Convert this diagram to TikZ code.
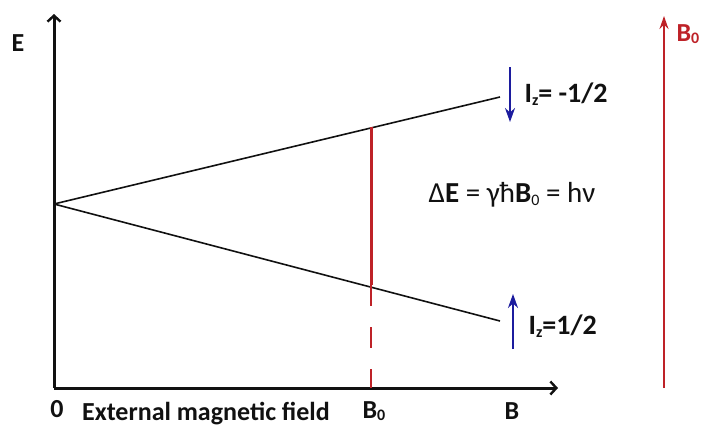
\documentclass[tikz,border=0pt]{standalone}
\usepackage{fontspec}
\setmainfont{Carlito}
\usetikzlibrary{arrows.meta}
\definecolor{zeemanink}{HTML}{111111}
\definecolor{zeemanred}{HTML}{BE2228}
\definecolor{zeemanblue}{HTML}{1C1C9E}
\newcommand{\lowsub}[1]{\raisebox{-0.1em}{\fontsize{16}{16}\selectfont #1}}
\tikzset{
  zeeman axis/.style={draw=zeemanink, line width=3pt,
    -{Straight Barb[length=6pt, width=13pt, line width=2.4pt]}},
  zeeman level/.style={draw=zeemanink, line width=1.6pt},
  zeeman gap/.style={draw=zeemanred, line width=3pt},
  zeeman dash/.style={draw=zeemanred, line width=2pt, dash pattern=on 21pt off 21pt},
  spin arrow/.style={draw=zeemanblue, line width=2pt,
    -{Stealth[length=14pt, width=10pt]}},
  field arrow/.style={draw=zeemanred, line width=1.8pt,
    -{Stealth[length=13pt, width=9pt]}},
  axis label/.style={font=\fontsize{26}{26}\selectfont\bfseries, text=zeemanink},
  spin label/.style={font=\fontsize{28}{28}\selectfont\bfseries, text=zeemanink, anchor=west},
}

\begin{document}
\begin{tikzpicture}[x=1pt, y=-1pt]
  \useasboundingbox (0,0) rectangle (704,429);

  \coordinate (origin) at (54,388);
  \coordinate (etop) at (54,14);
  \coordinate (bend) at (558,388);
  \coordinate (split) at (54,204);
  \coordinate (upper) at (500,97);
  \coordinate (lower) at (500,321);
  \coordinate (gaptop) at (371,127);
  \coordinate (gapbot) at (371,285);
  \coordinate (gapfoot) at (371,388);

  \draw[zeeman axis] (origin) -- (etop);
  \draw[zeeman axis] (origin) -- (bend);

  \draw[zeeman level] (split) -- (upper);
  \draw[zeeman level] (split) -- (lower);

  \draw[zeeman gap] (gaptop) -- (gapbot);
  \draw[zeeman dash] (gapbot) -- (gapfoot);

  \coordinate (downtail) at (510,67);
  \coordinate (downhead) at (510,122);
  \coordinate (uptail) at (513,349);
  \coordinate (uphead) at (513,294);
  \draw[spin arrow] (downtail) -- (downhead);
  \draw[spin arrow] (uptail) -- (uphead);

  \coordinate (fieldtail) at (664,388);
  \coordinate (fieldhead) at (664,16);
  \draw[field arrow] (fieldtail) -- (fieldhead);

  \node[axis label] (elabel) at (18,43) {E};
  \node[axis label] (zerolabel) at (57,409) {0};
  \node[axis label] (fieldname) at (206,414) {External magnetic field};
  \node[axis label] (bzero) at (374,411) {B\lowsub{0}};
  \node[axis label] (blabel) at (512,411) {B};

  \node[spin label] (spindown) at (521,94) {I\lowsub{z}= -1/2};
  \node[spin label] (spinup) at (525,326) {I\lowsub{z}=1/2};

  \node[font=\fontsize{29}{29}\selectfont, text=zeemanink] (gapeq) at (512,195)
    {Δ\textbf{E} = γħ\textbf{B}\lowsub{0} = hν};

  \node[font=\fontsize{26}{26}\selectfont\bfseries, text=zeemanred, anchor=west]
    (fieldlabel) at (673,34) {B\lowsub{0}};
\end{tikzpicture}
\end{document}
